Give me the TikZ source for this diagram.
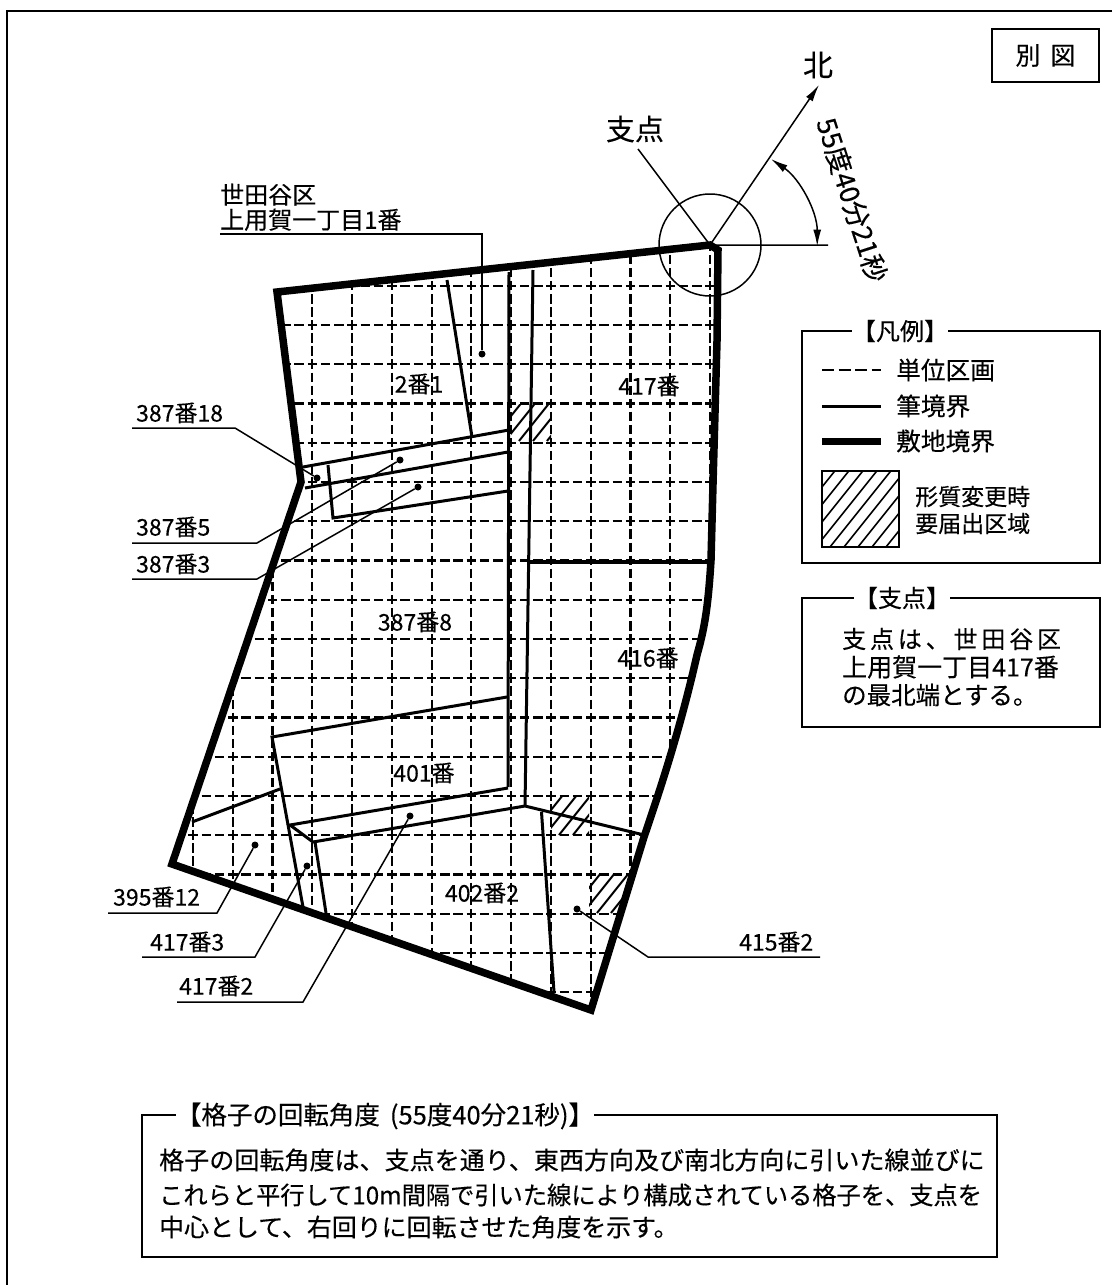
\documentclass[tikz,border=0pt]{standalone}
\usepackage{fontspec}
\usepackage{tikz}
\setmainfont{Noto Sans CJK JP}[FakeBold=0.3]
\newfontfamily\widefont{Noto Sans CJK JP}[FakeBold=0.3,LetterSpace=16]
\usetikzlibrary{calc,arrows.meta}
\tikzset{>={Latex[length=17pt,width=8pt]}}
\tikzstyle{gridv}  = [line width=2.2pt,dash pattern=on 9.5pt off 3.58pt,dash phase=4.75pt]
\tikzstyle{gridh}  = [line width=2.2pt,dash pattern=on 9.5pt off 3.76pt,dash phase=4.75pt]
\tikzstyle{lot}    = [line width=3pt]
\tikzstyle{site}   = [line width=7.5pt,line join=miter]
\tikzstyle{leader} = [line width=1.5pt]
\tikzstyle{frame}  = [line width=2pt]
\tikzstyle{dotmark}= [circle,fill=black,inner sep=0pt,minimum size=7pt]
\tikzstyle{lbl}    = [anchor=west,inner sep=0pt,font=\fontsize{23}{25}\selectfont]
\tikzstyle{lotname}= [inner sep=0pt,font=\fontsize{23}{25}\selectfont]
\tikzstyle{txt}    = [anchor=west,inner sep=0pt,font=\fontsize{24.7}{34}\selectfont]
\tikzstyle{heading}= [fill=white,inner sep=0pt,font=\fontsize{24}{26}\selectfont]
\def\sitepath{(277,292) -- (710,245) -- (718,250) -- (717,341) -- (713,484) -- (711,560) .. controls (708,610) and (704,630) .. (697,655) .. controls (680,730) and (660,790) .. (644,837) -- (591,1010) -- (172,864) -- (301,482) -- cycle}
\newcommand{\hatchbox}[5]{%
	\begin{scope}
		\clip (#1,#2) rectangle (#3,#4);
		\foreach \o in {-90,-76,...,120}
			\draw[line width=#5] ($(#1,#4)+(\o,0)$) -- ++(80,-100);
	\end{scope}}
\begin{document}
\begin{tikzpicture}[x=1pt,y=-1pt]
	\useasboundingbox (0,0) rectangle (1112,1285);
	\draw[frame] (1112,11) -- (7,11) -- (7,1285);
	\node[draw,frame,minimum width=107pt,minimum height=53pt] (sheet) at (1045.5,55.5) {};
	\node[inner sep=0pt,font=\fontsize{25}{27}\selectfont] (sheetname) at (sheet.center) {別\hspace{10pt}図};

	% grid inside the site
	\begin{scope}
		\clip \sitepath;
		\foreach \i in {0,...,13}
			\draw[gridv] ({193+39.77*\i},246.45) -- ++(0,786);
		\foreach \k in {0,...,18}
			\draw[gridh] (153.23,{285.7+39.25*\k}) -- ++(580,0);
		\hatchbox{511}{404}{551}{441}{2pt}
		\hatchbox{551}{795}{589}{835}{2pt}
		\hatchbox{589}{873}{632}{913}{2pt}
	\end{scope}

	% lot lines
	\draw[lot] (509,272) -- (508,787);
	\draw[lot] (533,270) -- (525,806);
	\draw[lot,line width=3.5pt] (528,562) -- (711,562);
	\draw[lot] (447,280) -- (472,437);
	\draw[lot] (303,467) -- (509,430);
	\draw[lot] (305,488) -- (508,452);
	\draw[lot] (328,465) -- (333,518) -- (508,491);
	\draw[lot] (507,697) -- (272,737) -- (303,907);
	\draw[lot] (192,822) -- (280,789);
	\draw[lot] (508,788) -- (290,825) -- (313,842) -- (525,806) -- (644,835);
	\draw[lot] (315,842) -- (326,913);
	\draw[lot] (541.5,812) -- (554,992);

	\draw[site] \sitepath;

	\node[lotname] (n2) at (419,384) {2番1};
	\node[lotname] (n417) at (649,386) {417番};
	\node[lotname] (n416) at (648,658) {416番};
	\node[lotname] (n387) at (415,622) {387番8};
	\node[lotname] (n401) at (424,773) {401番};
	\node[lotname] (n402) at (482,893) {402番2};

	% pivot and north
	\coordinate (pivot) at (710,245);
	\coordinate (east) at (828,245);
	\node[inner sep=0pt,font=\fontsize{30}{32}\selectfont] (north) at (818,65) {北};
	\node[inner sep=0pt,font=\fontsize{29}{31}\selectfont] (pt) at (635,129) {支点};
	\coordinate (ptend) at (638,149);
	\coordinate (tip) at (819,85);
	\draw[leader] (pivot) circle (51);
	\draw[leader] (ptend) -- (pivot) -- (east);
	\draw[leader,->] (pivot) -- (tip);
	\draw[leader,<->] (771,159) arc[start angle=-55.67,end angle=0,radius=106];
	\node[inner sep=0pt,rotate=-72,font=\fontsize{27}{29}\selectfont] (angle) at (852,200) {55度40分21秒};

	% leaders
	\node[lbl,anchor=south west,align=left,font=\fontsize{24}{25}\selectfont] (a1) at (220,231) {世田谷区\\上用賀一丁目1番};
	\coordinate (a1u) at (220,234);
	\coordinate (a1k) at (482,234);
	\node[dotmark] (a1d) at (482,354) {};
	\draw[leader] (a1u) -- (a1k) -- (a1d);

	\node[lbl] (b18) at (136,413) {387番18};
	\coordinate (b18u) at (132,428);
	\coordinate (b18k) at (235,428);
	\node[dotmark] (b18d) at (317,478) {};
	\draw[leader] (b18u) -- (b18k) -- (b18d);

	\node[lbl] (b5) at (136,527) {387番5};
	\coordinate (b5u) at (132,543);
	\coordinate (b5k) at (257,543);
	\node[dotmark] (b5d) at (400,460) {};
	\draw[leader] (b5u) -- (b5k) -- (b5d);

	\node[lbl] (b3) at (136,564) {387番3};
	\coordinate (b3u) at (132,579);
	\coordinate (b3k) at (257,579);
	\node[dotmark] (b3d) at (418,487) {};
	\draw[leader] (b3u) -- (b3k) -- (b3d);

	\node[lbl] (c12) at (113,897) {395番12};
	\coordinate (c12u) at (108,913);
	\coordinate (c12k) at (217,913);
	\node[dotmark] (c12d) at (255,845) {};
	\draw[leader] (c12u) -- (c12k) -- (c12d);

	\node[lbl] (d3) at (150,942) {417番3};
	\coordinate (d3u) at (142,957);
	\coordinate (d3k) at (255,957);
	\node[dotmark] (d3d) at (307,866) {};
	\draw[leader] (d3u) -- (d3k) -- (d3d);

	\node[lbl] (d2) at (179,986) {417番2};
	\coordinate (d2u) at (177,1002);
	\coordinate (d2k) at (303,1002);
	\node[dotmark] (d2d) at (410,816) {};
	\draw[leader] (d2u) -- (d2k) -- (d2d);

	\node[lbl] (e2) at (739,942) {415番2};
	\coordinate (e2u) at (820,957);
	\coordinate (e2k) at (648,957);
	\node[dotmark] (e2d) at (577,909) {};
	\draw[leader] (e2u) -- (e2k) -- (e2d);

	% legend
	\draw[frame] (802,331) rectangle (1100,563);
	\node[heading] (legend) at (900,331) {【凡例】};
	\node[txt] (l1) at (896,370) {単位区画};
	\node[txt] (l2) at (896,406) {筆境界};
	\node[txt] (l3) at (896,441) {敷地境界};
	\coordinate (l1a) at (822,370);
	\coordinate (l2a) at (822,406);
	\coordinate (l3a) at (822,441);
	\draw[line width=2pt,dash pattern=on 12pt off 4.5pt] (l1a) -- (881,370);
	\draw[lot] (l2a) -- (881,406);
	\draw[line width=7pt] (l3a) -- (881,441);
	\hatchbox{822}{471}{899}{547}{1.6pt}
	\draw[line width=1.6pt] (822,471) rectangle (899,547);
	\node[txt,font=\fontsize{23}{27}\selectfont,align=left] (l4) at (915,510) {形質変更時\\要届出区域};

	% pivot note
	\draw[frame] (802,598) rectangle (1100,727);
	\node[heading] (pivotnote) at (902,598) {【支点】};
	\node[txt,font=\widefont\fontsize{24}{28}\selectfont] (p1) at (842,639) {支点は、世田谷区};
	\node[txt,font=\fontsize{25}{28}\selectfont] (p2) at (842,667) {上用賀一丁目417番};
	\node[txt,font=\fontsize{24.5}{28}\selectfont] (p3) at (842,695) {の最北端とする。};

	% rotation note
	\draw[frame] (142,1115) rectangle (997,1257);
	\node[heading,font=\fontsize{25.5}{27}\selectfont] (rot) at (385,1116) {【格子の回転角度\hspace{10pt}(55度40分21秒)】};
	\node[txt] (r1) at (159,1160) {\scalebox{1.014}[1]{格子の回転角度は、支点を通り、東西方向及び南北方向に引いた線並びに}};
	\node[txt] (r2) at (159,1195) {\scalebox{0.981}[1]{これらと平行して10m間隔で引いた線により構成されている格子を、支点を}};
	\node[txt] (r3) at (159,1227) {\scalebox{1.01}[1]{中心として、右回りに回転させた角度を示す。}};
\end{tikzpicture}
\end{document}
